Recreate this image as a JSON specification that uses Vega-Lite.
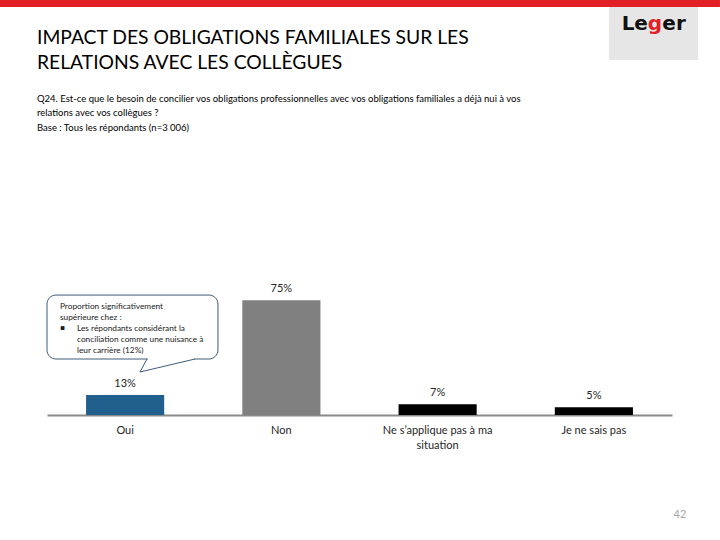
{
  "$schema": "https://vega.github.io/schema/vega-lite/v6.json",
  "autosize": {"type": "none"},
  "width": 625,
  "height": 153,
  "padding": {"left": 47, "top": 262, "right": 48, "bottom": 125},
  "background": "white",
  "config": {"view": {"stroke": null}, "font": "Lato", "text": {"font": "Lato"}},
  "title": {
    "text": ["IMPACT DES OBLIGATIONS FAMILIALES SUR LES", "RELATIONS AVEC LES COLLÈGUES"],
    "subtitle": ["Q24. Est-ce que le besoin de concilier vos obligations professionnelles avec vos obligations familiales a déjà nui à vos", "relations avec vos collègues ?", "Base : Tous les répondants (n=3 006)"],
    "anchor": "start",
    "frame": "group",
    "dx": -10,
    "font": "Lato",
    "fontSize": 19.3,
    "fontWeight": "normal",
    "color": "#000000",
    "lineHeight": 25,
    "subtitleFont": "Lato",
    "subtitleFontSize": 9.5,
    "subtitleColor": "#000000",
    "subtitleLineHeight": 14.5,
    "subtitlePadding": 20,
    "offset": -132
  },
  "datasets": {
    "bars": [
      {"cat": "Oui", "pct": 13, "lab": "13%"},
      {"cat": "Non", "pct": 75, "lab": "75%"},
      {"cat": "Ne s’applique pas à ma situation", "pct": 7, "lab": "7%"},
      {"cat": "Je ne sais pas", "pct": 5, "lab": "5%"}
    ],
    "one": [{}]
  },
  "data": {"name": "one"},
  "resolve": {"scale": {"x": "independent"}},
  "layer": [
    {
      "data": {"name": "bars"},
      "mark": {"type": "bar"},
      "encoding": {
        "x": {"field": "cat", "type": "nominal", "sort": null,
              "scale": {"paddingInner": 0.5, "paddingOuter": 0.25},
              "axis": {"title": null, "labelAngle": 0, "ticks": false, "domainColor": "#8a8a8a", "domainWidth": 2,
                       "labelFont": "Lato", "labelFontSize": 11, "labelColor": "#262626", "labelPadding": 9,
                       "labelLineHeight": 15, "labelBaseline": "top",
                       "labelExpr": "datum.value == 'Ne s’applique pas à ma situation' ? ['Ne s’applique pas à ma', 'situation'] : datum.label"}},
        "y": {"field": "pct", "type": "quantitative", "scale": {"domain": [0, 100]}, "axis": null},
        "color": {"field": "cat", "type": "nominal", "legend": null,
                  "scale": {"domain": ["Oui", "Non", "Ne s’applique pas à ma situation", "Je ne sais pas"],
                            "range": ["#215f8d", "#808080", "#000000", "#000000"]}}
      }
    },
    {
      "data": {"name": "bars"},
      "mark": {"type": "text", "baseline": "middle", "dy": -11, "fontSize": 11, "color": "#262626", "font": "Lato"},
      "encoding": {
        "x": {"field": "cat", "type": "nominal", "sort": null, "scale": {"paddingInner": 0.5, "paddingOuter": 0.25}, "axis": null},
        "y": {"field": "pct", "type": "quantitative", "scale": {"domain": [0, 100]}, "axis": null},
        "text": {"field": "lab", "type": "nominal"}
      }
    },
    {
      "mark": {"type": "rect", "color": "#e31f26"},
      "encoding": {
        "x": {"datum": -0.301, "type": "quantitative", "scale": {"domain": [0, 4]}, "axis": null},
        "x2": {"datum": 4.307},
        "y": {"datum": 271.2, "type": "quantitative", "scale": {"domain": [0, 100]}, "axis": null},
        "y2": {"datum": 266.7}
      }
    },
    {
      "mark": {"type": "rect", "color": "#e6e6e6"},
      "encoding": {
        "x": {"datum": 3.597, "type": "quantitative", "scale": {"domain": [0, 4]}, "axis": null},
        "x2": {"datum": 4.166},
        "y": {"datum": 266.7, "type": "quantitative", "scale": {"domain": [0, 100]}, "axis": null},
        "y2": {"datum": 232.0}
      }
    },
    {
      "mark": {"type": "text", "text": "Le", "align": "right", "baseline": "alphabetic", "font": "DejaVu Sans", "fontWeight": "bold", "fontSize": 20, "color": "#111111"},
      "encoding": {
        "x": {"datum": 3.846, "type": "quantitative", "scale": {"domain": [0, 4]}, "axis": null},
        "y": {"datum": 251.6, "type": "quantitative", "scale": {"domain": [0, 100]}, "axis": null}
      }
    },
    {
      "mark": {"type": "text", "text": "g", "align": "center", "baseline": "alphabetic", "font": "DejaVu Sans", "fontWeight": "bold", "fontSize": 20, "color": "#e31f26"},
      "encoding": {
        "x": {"datum": 3.891, "type": "quantitative", "scale": {"domain": [0, 4]}, "axis": null},
        "y": {"datum": 251.6, "type": "quantitative", "scale": {"domain": [0, 100]}, "axis": null}
      }
    },
    {
      "mark": {"type": "text", "text": "er", "align": "left", "baseline": "alphabetic", "font": "DejaVu Sans", "fontWeight": "bold", "fontSize": 20, "color": "#111111"},
      "encoding": {
        "x": {"datum": 3.938, "type": "quantitative", "scale": {"domain": [0, 4]}, "axis": null},
        "y": {"datum": 251.6, "type": "quantitative", "scale": {"domain": [0, 100]}, "axis": null}
      }
    },
    {
      "mark": {"type": "rect", "fill": "white", "stroke": "#3f5c78", "strokeWidth": 1, "cornerRadius": 9},
      "encoding": {
        "x": {"datum": 0.0, "type": "quantitative", "scale": {"domain": [0, 4]}, "axis": null},
        "x2": {"datum": 1.094},
        "y": {"datum": 78.4, "type": "quantitative", "scale": {"domain": [0, 100]}, "axis": null},
        "y2": {"datum": 36.6}
      }
    },
    {
      "mark": {"type": "rule", "color": "white", "strokeWidth": 2.5},
      "encoding": {
        "x": {"datum": 0.645, "type": "quantitative", "scale": {"domain": [0, 4]}, "axis": null},
        "x2": {"datum": 0.942},
        "y": {"datum": 36.6, "type": "quantitative", "scale": {"domain": [0, 100]}, "axis": null},
        "y2": {"datum": 36.6}
      }
    },
    {
      "mark": {"type": "rule", "color": "#3f5c78", "strokeWidth": 1},
      "encoding": {
        "x": {"datum": 0.64, "type": "quantitative", "scale": {"domain": [0, 4]}, "axis": null},
        "x2": {"datum": 0.595},
        "y": {"datum": 36.6, "type": "quantitative", "scale": {"domain": [0, 100]}, "axis": null},
        "y2": {"datum": 28.1}
      }
    },
    {
      "mark": {"type": "rule", "color": "#3f5c78", "strokeWidth": 1},
      "encoding": {
        "x": {"datum": 0.595, "type": "quantitative", "scale": {"domain": [0, 4]}, "axis": null},
        "x2": {"datum": 0.947},
        "y": {"datum": 28.1, "type": "quantitative", "scale": {"domain": [0, 100]}, "axis": null},
        "y2": {"datum": 36.6}
      }
    },
    {
      "mark": {"type": "text", "text": ["Proportion significativement", "supérieure chez :"], "align": "left", "baseline": "top", "lineHeight": 11, "fontSize": 8.3, "fontWeight": "normal", "color": "#1a1a1a", "font": "Lato"},
      "encoding": {
        "x": {"datum": 0.083, "type": "quantitative", "scale": {"domain": [0, 4]}, "axis": null},
        "y": {"datum": 73.9, "type": "quantitative", "scale": {"domain": [0, 100]}, "axis": null}
      }
    },
    {
      "mark": {"type": "text", "text": "▪", "align": "left", "baseline": "top", "fontSize": 7.5, "fontWeight": "normal", "color": "#1a1a1a", "font": "DejaVu Sans"},
      "encoding": {
        "x": {"datum": 0.083, "type": "quantitative", "scale": {"domain": [0, 4]}, "axis": null},
        "y": {"datum": 59.2, "type": "quantitative", "scale": {"domain": [0, 100]}, "axis": null}
      }
    },
    {
      "mark": {"type": "text", "text": ["Les répondants considérant la", "conciliation comme une nuisance à", "leur carrière (12%)"], "align": "left", "baseline": "top", "lineHeight": 11, "fontSize": 8.3, "fontWeight": "normal", "color": "#1a1a1a", "font": "Lato"},
      "encoding": {
        "x": {"datum": 0.192, "type": "quantitative", "scale": {"domain": [0, 4]}, "axis": null},
        "y": {"datum": 59.2, "type": "quantitative", "scale": {"domain": [0, 100]}, "axis": null}
      }
    },
    {
      "mark": {"type": "text", "text": "42", "align": "center", "baseline": "middle", "fontSize": 11, "fontWeight": "normal", "color": "#a6a6a6", "font": "Lato"},
      "encoding": {
        "x": {"datum": 4.051, "type": "quantitative", "scale": {"domain": [0, 4]}, "axis": null},
        "y": {"datum": -65.4, "type": "quantitative", "scale": {"domain": [0, 100]}, "axis": null}
      }
    }
  ]
}
